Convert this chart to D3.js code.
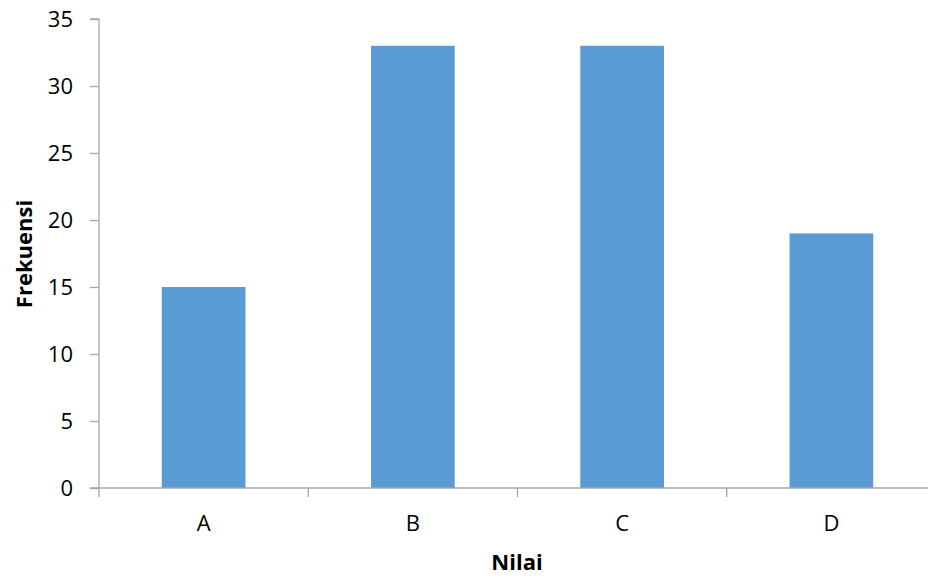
<!DOCTYPE html>
<html>
<head>
<meta charset="utf-8">
<script src="https://cdn.jsdelivr.net/npm/d3@7"></script>
<style>
  html, body { margin: 0; padding: 0; background: #fff; }
  svg { display: block; font-family: "Open Sans", "Noto Sans", sans-serif; }
</style>
</head>
<body>
<svg id="chart" width="928" height="582"></svg>
<script>
// Frequency of each grade
const categories = ["A", "B", "C", "D"];
const frequencies = [15, 33, 33, 19];
const yTicks = [0, 5, 10, 15, 20, 25, 30, 35];
const xTitle = "Nilai";
const yTitle = "Frekuensi";

const svg = d3.select("#chart");
const plotLeft = 99, plotRight = 936, plotTop = 19, plotBottom = 488;
const axisColor = "#a6a6a6";
const fontSize = 22;

const bandX = d3.scaleBand().domain(categories).range([plotLeft, plotRight]);
const y = d3.scaleLinear().domain([0, 35]).range([plotBottom, plotTop]);

// Bars (40% of each category slot, centred)
svg.append("g").selectAll("rect")
  .data(categories.map((c, i) => ({ c, v: frequencies[i] })))
  .join("rect")
  .attr("x", d => bandX(d.c) + bandX.bandwidth() * 0.3)
  .attr("width", bandX.bandwidth() * 0.4)
  .attr("y", d => y(d.v))
  .attr("height", d => y(0) - y(d.v))
  .attr("fill", "#5b9bd5");

// Y axis
const yAxis = svg.append("g").attr("transform", `translate(${plotLeft},0)`)
  .call(d3.axisLeft(y).tickValues(yTicks).tickSize(9).tickPadding(17).tickFormat(d3.format("d")));
yAxis.select(".domain").attr("stroke", axisColor).attr("stroke-width", 1.3).attr("d", `M-9,${plotTop}H0V${plotBottom}`);
yAxis.selectAll(".tick line").attr("stroke", axisColor).attr("stroke-width", 1.3);
yAxis.selectAll(".tick text").attr("font-size", fontSize).attr("fill", "#000").attr("font-family", "'Open Sans', sans-serif");

// X axis with boundary ticks between categories
const xg = svg.append("g").attr("transform", `translate(0,${plotBottom})`);
xg.append("line").attr("x1", plotLeft - 9).attr("x2", plotRight).attr("stroke", axisColor).attr("stroke-width", 1.3);
const boundaries = categories.map(c => bandX(c)).concat([plotRight]);
xg.selectAll("line.tick").data(boundaries).join("line").attr("class", "tick")
  .attr("x1", d => d).attr("x2", d => d).attr("y1", 0).attr("y2", 9)
  .attr("stroke", axisColor).attr("stroke-width", 1.3);
xg.selectAll("text").data(categories).join("text")
  .attr("x", d => bandX(d) + bandX.bandwidth() / 2)
  .attr("y", 43)
  .attr("text-anchor", "middle")
  .attr("font-size", fontSize)
  .text(d => d);

// Axis titles
svg.append("text").attr("x", 517).attr("y", 570)
  .attr("text-anchor", "middle").attr("font-size", fontSize).attr("font-weight", "bold").text(xTitle);
svg.append("text").attr("transform", `translate(32,254) rotate(-90)`)
  .attr("text-anchor", "middle").attr("font-size", fontSize).attr("font-weight", "bold").text(yTitle);
</script>
</body>
</html>
